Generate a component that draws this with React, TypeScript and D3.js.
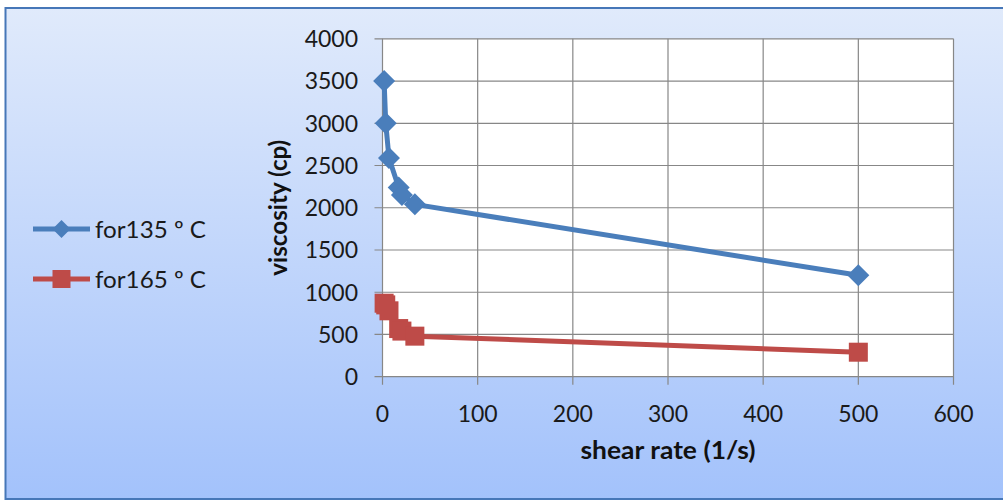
import React from "react";
import * as d3 from "d3";

const shearRate = [1.7, 3.4, 6.8, 17, 20.4, 34, 500];
const visc135 = [3500, 3000, 2590, 2240, 2150, 2040, 1200];
const visc165 = [870, 850, 780, 570, 540, 480, 290];
const xTicks = [0, 100, 200, 300, 400, 500, 600];
const yTicks = [0, 500, 1000, 1500, 2000, 2500, 3000, 3500, 4000];
const seriesNames = ["for135 º C", "for165 º C"];

const W = 1003;
const H = 500;
const FONT = "Lato, 'Open Sans', sans-serif";

export default function App() {
  const x = d3.scaleLinear().domain([0, 600]).range([382.5, 953.5]);
  const y = d3.scaleLinear().domain([0, 4000]).range([376.7, 38.8]);
  const line = d3
    .line<[number, number]>()
    .x((d) => x(d[0]))
    .y((d) => y(d[1]));
  const blueData: [number, number][] = shearRate.map((s, i) => [s, visc135[i]]);
  const redData: [number, number][] = shearRate.map((s, i) => [s, visc165[i]]);
  const blue = "#4a7ebb";
  const red = "#be4b48";
  const grid = "#878787";
  const diamond = (cx: number, cy: number, r: number) =>
    `M${cx},${cy - r}L${cx + r},${cy}L${cx},${cy + r}L${cx - r},${cy}Z`;
  const sq = 19;

  return (
    <svg
      width={W}
      height={H}
      style={{ position: "absolute", left: 0, top: 0, display: "block" }}
    >
      <defs>
        <linearGradient id="bg" x1="0" y1="0" x2="0" y2="1">
          <stop offset="0" stopColor="#e0eafb" />
          <stop offset="1" stopColor="#a3c2fb" />
        </linearGradient>
      </defs>
      <rect x={0} y={0} width={W} height={H} fill="#ffffff" />
      <rect x={5.5} y={8} width={W + 20} height={H - 9} fill="url(#bg)" stroke="#4677b8" strokeWidth={2} />
      {/* plot area */}
      <rect x={x(0)} y={y(4000)} width={x(600) - x(0)} height={y(0) - y(4000)} fill="#ffffff" />
      {xTicks.map((t) => (
        <line key={"gx" + t} x1={x(t)} x2={x(t)} y1={y(4000)} y2={y(0) + 8} stroke={grid} strokeWidth={1.2} />
      ))}
      {yTicks.map((t) => (
        <line key={"gy" + t} x1={x(0) - 8} x2={x(600)} y1={y(t)} y2={y(t)} stroke={grid} strokeWidth={1.2} />
      ))}
      {/* tick labels */}
      {yTicks.map((t) => (
        <text key={"ly" + t} x={358} y={y(t) + 8.3} textAnchor="end" fontFamily={FONT} fontSize={23} fill="#1a1a1a">
          {t}
        </text>
      ))}
      {xTicks.map((t) => (
        <text key={"lx" + t} x={x(t)} y={421.5} textAnchor="middle" fontFamily={FONT} fontSize={23} fill="#1a1a1a">
          {t}
        </text>
      ))}
      {/* axis titles */}
      <text
        x={0}
        y={0}
        transform={`translate(287,${(y(0) + y(4000)) / 2}) rotate(-90)`}
        textAnchor="middle"
        fontFamily={FONT}
        fontWeight="bold"
        fontSize={25}
        textLength={136}
        lengthAdjust="spacingAndGlyphs"
        fill="#111"
      >
        viscosity (cp)
      </text>
      <text
        x={(x(0) + x(600)) / 2}
        y={459}
        textAnchor="middle"
        fontFamily={FONT}
        fontWeight="bold"
        fontSize={25}
        textLength={175}
        lengthAdjust="spacingAndGlyphs"
        fill="#111"
      >
        shear rate (1/s)
      </text>
      {/* series */}
      <path d={line(blueData) || ""} fill="none" stroke={blue} strokeWidth={5} strokeLinejoin="round" />
      {blueData.map((d, i) => (
        <path key={"bm" + i} d={diamond(x(d[0]), y(d[1]), 11)} fill={blue} />
      ))}
      <path d={line(redData) || ""} fill="none" stroke={red} strokeWidth={5} strokeLinejoin="round" />
      {redData.map((d, i) => (
        <rect key={"rm" + i} x={x(d[0]) - sq / 2} y={y(d[1]) - sq / 2} width={sq} height={sq} fill={red} />
      ))}
      {/* legend */}
      <line x1={33} x2={90} y1={229} y2={229} stroke={blue} strokeWidth={5} />
      <path d={diamond(61.5, 229, 9)} fill={blue} />
      <text x={95} y={237.5} fontFamily={FONT} fontSize={23} textLength={111} lengthAdjust="spacingAndGlyphs" fill="#1a1a1a">
        {seriesNames[0]}
      </text>
      <line x1={33} x2={90} y1={279} y2={279} stroke={red} strokeWidth={5} />
      <rect x={61.5 - 9} y={279 - 9} width={18} height={18} fill={red} />
      <text x={95} y={287.5} fontFamily={FONT} fontSize={23} textLength={111} lengthAdjust="spacingAndGlyphs" fill="#1a1a1a">
        {seriesNames[1]}
      </text>
    </svg>
  );
}
